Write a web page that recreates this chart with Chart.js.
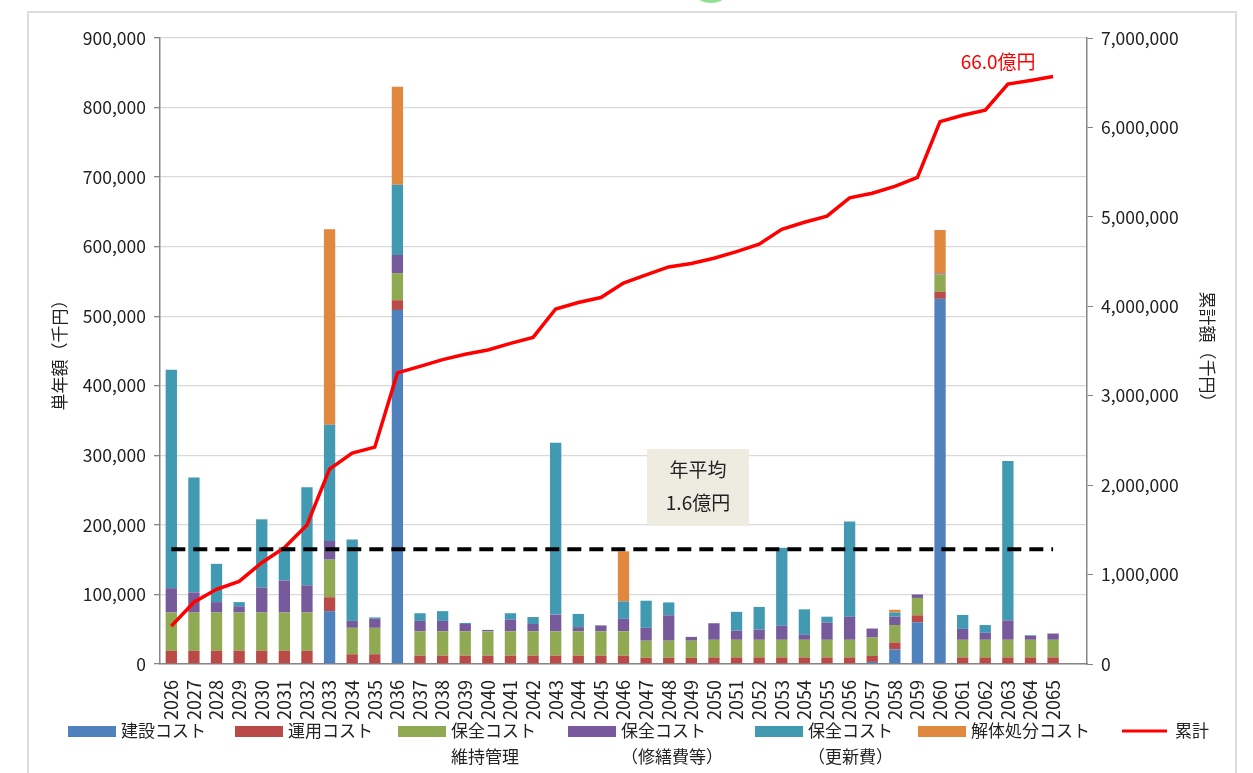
<!DOCTYPE html>
<html lang="ja">
<head>
<meta charset="utf-8">
<script src="https://cdn.jsdelivr.net/npm/chart.js@4.4.1/dist/chart.umd.min.js"></script>
<style>
    html, body { margin: 0; padding: 0; background: #fff; }
    #wrap { position: relative; width: 1253px; height: 773px; overflow: hidden; }
    #frame { position: absolute; left: 27px; top: 11px; width: 1210px; height: 800px; border: 2px solid #dddddd; box-sizing: border-box; }
    #dot { position: absolute; left: 698px; top: -9px; width: 26px; height: 12px; border-radius: 50%; background: #90e090; }
    canvas { position: absolute; left: 0; top: 0; }
</style>
</head>
<body>
<div id="wrap">
    <div id="frame"></div>
    <div id="dot"></div>
    <canvas id="costChart" width="1253" height="773"></canvas>
</div>
<script>
// years (last empty slot leaves the gap before the right axis)
const years = ['2026', '2027', '2028', '2029', '2030', '2031', '2032', '2033', '2034', '2035',
    '2036', '2037', '2038', '2039', '2040', '2041', '2042', '2043', '2044', '2045',
    '2046', '2047', '2048', '2049', '2050', '2051', '2052', '2053', '2054', '2055',
    '2056', '2057', '2058', '2059', '2060', '2061', '2062', '2063', '2064', '2065', ''];

// 千円
const construction = [0, 0, 0, 0, 0, 0, 0, 76000, 0, 0,
    509000, 0, 0, 0, 0, 0, 0, 0, 0, 0,
    0, 0, 0, 0, 0, 0, 0, 0, 0, 0,
    0, 3000, 21000, 60000, 525000, 0, 0, 0, 0, 0];
const operation = [19000, 19000, 19000, 19000, 19000, 19000, 19000, 20000, 14000, 14000,
    14000, 12000, 12000, 12000, 12000, 12000, 12000, 12000, 12000, 12000,
    12000, 9000, 9000, 9000, 9500, 9500, 9500, 9500, 9500, 9500,
    9500, 8600, 10000, 10000, 10000, 9500, 9500, 9500, 9500, 9500];
const maintenance = [55000, 55000, 55000, 55000, 55000, 55000, 55000, 54000, 38000, 38000,
    39000, 35000, 35000, 35000, 35000, 35000, 35000, 35000, 35000, 35000,
    35000, 24500, 24500, 24500, 25300, 25300, 25300, 25300, 25300, 25300,
    25300, 26400, 25000, 25000, 25000, 25300, 25300, 25300, 25300, 25300];
const repair = [35000, 29000, 15000, 9000, 36000, 46000, 39000, 27000, 10000, 13000,
    26000, 15000, 15000, 10500, 2000, 17000, 10500, 24000, 6000, 8500,
    18000, 18500, 36500, 5500, 23800, 13200, 14700, 20200, 7200, 24700,
    33200, 13000, 12000, 5000, 1500, 15700, 10200, 28000, 5700, 9000];
const renewal = [314000, 165000, 55000, 6000, 98000, 48000, 141000, 167000, 117000, 2000,
    101000, 11000, 14000, 1500, 0, 9000, 10000, 247000, 19000, 0,
    25000, 39000, 18500, 0, 0, 27000, 32500, 112000, 36600, 8500,
    137000, 0, 6000, 0, 0, 20000, 11000, 229000, 900, 0];
const demolition = [0, 0, 0, 0, 0, 0, 0, 281000, 0, 0,
    141000, 0, 0, 0, 0, 0, 0, 0, 0, 0,
    72000, 0, 0, 0, 0, 0, 0, 0, 0, 0,
    0, 0, 4000, 0, 62500, 0, 0, 0, 0, 0];
const cumulative = [423000, 691000, 835000, 924000, 1132000, 1300000, 1554000, 2179000, 2358000, 2425000,
    3255000, 3328000, 3404000, 3463000, 3512000, 3585000, 3652000, 3970000, 4042000, 4098000,
    4260000, 4351000, 4440000, 4478000, 4537000, 4612000, 4694000, 4861000, 4940000, 5008000,
    5213000, 5264000, 5341000, 5441000, 6065000, 6136000, 6192000, 6484000, 6525000, 6569000];
const annualAverage = 165000;

const FONT = '"Noto Sans CJK JP", "Noto Sans", sans-serif';
const TEXT = '#222222';
const AXIS = '#868686';

const colors = {
    construction: '#4F81BD',
    operation: '#B94A48',
    maintenance: '#8FAA52',
    repair: '#765A9C',
    renewal: '#4299B2',
    demolition: '#E0883E',
    total: '#FF0000'
};

// dashed average line + note boxes
const notesPlugin = {
    id: 'notes',
    afterDatasetsDraw(chart) {
        const {ctx, scales} = chart;
        const y = scales.y.getPixelForValue(annualAverage);
        ctx.save();
        ctx.strokeStyle = '#000';
        ctx.lineWidth = 4;
        ctx.setLineDash([14, 8]);
        ctx.beginPath();
        ctx.moveTo(scales.x.getPixelForValue(0), y);
        ctx.lineTo(scales.x.getPixelForValue(39), y);
        ctx.stroke();
        ctx.setLineDash([]);

        ctx.fillStyle = '#EEECE1';
        ctx.fillRect(647, 449, 102, 77);
        ctx.fillStyle = TEXT;
        ctx.font = '19px ' + FONT;
        ctx.textAlign = 'center';
        ctx.textBaseline = 'middle';
        ctx.fillText('年平均', 698, 470);
        ctx.fillText('1.6億円', 698, 503);

        const lastX = scales.x.getPixelForValue(39);
        const lastY = scales.y2.getPixelForValue(cumulative[39]);
        ctx.fillStyle = colors.total;
        ctx.fillText('66.0億円', lastX - 55, lastY - 15);
        ctx.restore();
    }
};

// legend with two-line labels
const legendPlugin = {
    id: 'twoLineLegend',
    afterDraw(chart) {
        const {ctx} = chart;
        const xs = [68, 235, 398, 568, 755, 918, 1122];
        ctx.save();
        ctx.font = '17px ' + FONT;
        ctx.textBaseline = 'middle';
        ctx.textAlign = 'left';
        chart.data.datasets.forEach((ds, i) => {
            const x = xs[i];
            const lines = ds.label.split('\n');
            if (ds.type === 'line') {
                ctx.strokeStyle = ds.borderColor;
                ctx.lineWidth = 3;
                ctx.beginPath();
                ctx.moveTo(x, 731);
                ctx.lineTo(x + 45, 731);
                ctx.stroke();
            } else {
                ctx.fillStyle = ds.backgroundColor;
                ctx.fillRect(x, 726, 48, 11);
            }
            ctx.fillStyle = TEXT;
            ctx.fillText(lines[0], x + 53, 731);
            if (lines[1]) {
                ctx.fillText(lines[1], x + 53, 757);
            }
        });
        ctx.restore();
    }
};

const bar = (label, data, color) => ({
    type: 'bar',
    label: label,
    data: data,
    backgroundColor: color,
    borderWidth: 0,
    stack: 'cost',
    yAxisID: 'y',
    order: 1
});

new Chart(document.getElementById('costChart').getContext('2d'), {
    data: {
        labels: years,
        datasets: [
            bar('建設コスト', construction, colors.construction),
            bar('運用コスト', operation, colors.operation),
            bar('保全コスト\n維持管理', maintenance, colors.maintenance),
            bar('保全コスト\n（修繕費等）', repair, colors.repair),
            bar('保全コスト\n（更新費）', renewal, colors.renewal),
            bar('解体処分コスト', demolition, colors.demolition),
            {
                type: 'line',
                label: '累計',
                data: cumulative,
                borderColor: colors.total,
                backgroundColor: colors.total,
                borderWidth: 3.5,
                pointRadius: 0,
                tension: 0,
                yAxisID: 'y2',
                order: 0
            }
        ]
    },
    options: {
        responsive: false,
        animation: false,
        layout: { padding: { top: 38, left: 45, right: 31, bottom: 47 } },
        datasets: { bar: { barPercentage: 0.5, categoryPercentage: 1 } },
        plugins: {
            legend: { display: false },
            tooltip: { enabled: false }
        },
        scales: {
            x: {
                stacked: true,
                grid: { display: false },
                border: { display: true, color: AXIS, width: 1.5 },
                ticks: {
                    autoSkip: false,
                    maxRotation: 90,
                    minRotation: 90,
                    padding: 8,
                    color: TEXT,
                    font: { family: FONT, size: 18 }
                },
                afterFit: (scale) => { scale.height = 62; }
            },
            y: {
                stacked: true,
                position: 'left',
                min: 0,
                max: 900000,
                grid: { color: '#D9D9D9', lineWidth: 1.3, tickLength: 6, tickColor: AXIS },
                border: { display: true, color: AXIS, width: 1.5 },
                ticks: {
                    stepSize: 100000,
                    padding: 8,
                    color: TEXT,
                    font: { family: FONT, size: 17.5 },
                    callback: (v) => v.toLocaleString('en-US')
                },
                title: {
                    display: true,
                    text: '単年額（千円）',
                    color: TEXT,
                    font: { family: FONT, size: 17 }
                },
                afterFit: (scale) => { scale.width = 115; }
            },
            y2: {
                position: 'right',
                min: 0,
                max: 7000000,
                grid: { drawOnChartArea: false, tickLength: 6, tickColor: AXIS },
                border: { display: true, color: AXIS, width: 1.5 },
                ticks: {
                    stepSize: 1000000,
                    padding: 8,
                    color: TEXT,
                    font: { family: FONT, size: 17.5 },
                    callback: (v) => v.toLocaleString('en-US')
                },
                title: {
                    display: true,
                    text: '累計額（千円）',
                    color: TEXT,
                    font: { family: FONT, size: 17 }
                },
                afterFit: (scale) => { scale.width = 135; }
            }
        }
    },
    plugins: [notesPlugin, legendPlugin]
});
</script>
</body>
</html>
